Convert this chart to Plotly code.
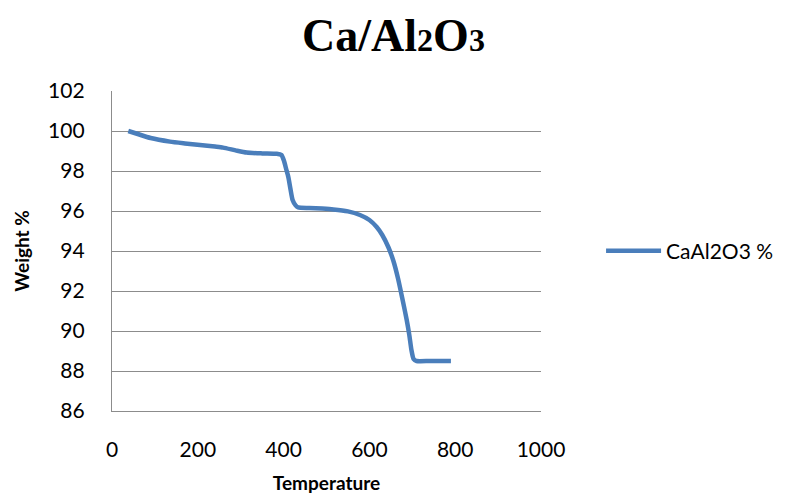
import plotly.graph_objects as go

temperature = [38, 60, 90, 135, 170, 205, 240, 259, 290, 314, 350, 384, 395, 401, 406, 411, 416, 421, 428, 434, 460, 490, 516, 550, 578, 600, 617, 630, 644, 656, 667, 677, 687, 693, 698, 703, 710, 740, 770, 790]
weight = [100.0, 99.85, 99.65, 99.47, 99.38, 99.3, 99.22, 99.17, 99.02, 98.92, 98.88, 98.86, 98.8, 98.5, 98.1, 97.7, 97.1, 96.55, 96.28, 96.18, 96.15, 96.12, 96.08, 95.98, 95.8, 95.55, 95.2, 94.8, 94.2, 93.5, 92.6, 91.6, 90.55, 89.8, 89.05, 88.6, 88.5, 88.5, 88.5, 88.5]

series_name = "CaAl2O3 %"
x_ticks = [0, 200, 400, 600, 800, 1000]
y_ticks = [86, 88, 90, 92, 94, 96, 98, 100, 102]

fig = go.Figure()
fig.add_trace(go.Scatter(
    x=temperature, y=weight, mode="lines", name=series_name,
    line=dict(color="#4a7ebb", width=4.5, shape="spline", smoothing=0.6),
))

font_main = "Lato, 'Open Sans', sans-serif"
fig.update_layout(
    width=787, height=500,
    margin=dict(l=112, r=246, t=91, b=89, autoexpand=False),
    paper_bgcolor="white", plot_bgcolor="white",
    title=dict(
        text="Ca/Al<span style='font-size:32px'>2</span>O<span style='font-size:32px'>3</span>",
        x=0.5, xref="container", xanchor="center",
        y=0.93, yref="container", yanchor="middle",
        font=dict(family="'Liberation Serif', 'Times New Roman', serif", size=46, color="black", weight="bold"),
    ),
    showlegend=True,
    legend=dict(x=1.14, xanchor="left", y=0.5, yanchor="middle",
                itemwidth=55,
                font=dict(family=font_main, size=21, color="black"),
                bgcolor="rgba(0,0,0,0)"),
    xaxis=dict(
        range=[0, 1000], tickvals=x_ticks, ticktext=[str(v) for v in x_ticks],
        showgrid=False, zeroline=False, showline=True, linecolor="#8c8c8c", linewidth=1.3,
        tickfont=dict(family=font_main, size=21, color="black"),
        ticks="", ticklabelstandoff=20, automargin=False,
        title=dict(text="<b>Temperature</b>", font=dict(family=font_main, size=19, color="black"), standoff=16),
    ),
    yaxis=dict(
        range=[86, 102], tickvals=y_ticks, ticktext=[str(v) for v in y_ticks],
        showgrid=True, gridcolor="#8c8c8c", gridwidth=1.3,
        zeroline=False, showline=True, linecolor="#8c8c8c", linewidth=1.3,
        tickfont=dict(family=font_main, size=21, color="black"),
        ticks="", ticklabelstandoff=22, automargin=False,
        title=dict(text="<b>Weight %</b>", font=dict(family=font_main, size=19, color="black"), standoff=13),
    ),
)
fig.write_html("out.html")
